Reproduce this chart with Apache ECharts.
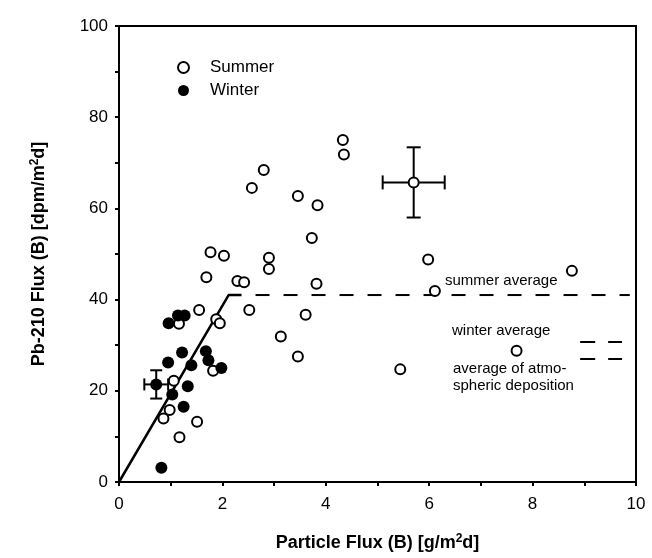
<!DOCTYPE html>
<html>
<head>
<meta charset="utf-8">
<script src="https://cdn.jsdelivr.net/npm/echarts@6/dist/echarts.min.js"></script>
<style>html,body{margin:0;padding:0;background:#fff;}#c{width:652px;height:558px;}</style>
</head>
<body>
<div id="c"></div>
<script>
// ---- data ----
const summerX = [1.77,2.03,1.69,2.29,2.42,1.55,2.52,1.16,1.88,1.95,1.06,1.82,0.98,0.86,1.51,1.17,
                 4.33,4.35,2.80,2.57,3.46,3.84,3.73,2.90,2.90,3.82,5.98,8.76,6.11,7.69,3.61,3.13,3.46,5.44,5.70];
const summerY = [50.4,49.6,44.9,44.1,43.8,37.7,37.7,34.7,35.7,34.8,22.2,24.4,15.8,13.9,13.2,9.8,
                 75.0,71.8,68.4,64.5,62.7,60.7,53.5,49.2,46.7,43.5,48.8,46.3,41.9,28.8,36.7,31.9,27.5,24.7,65.7];
const winterX = [0.96,1.14,1.27,1.22,0.95,1.40,1.68,1.73,1.98,1.33,1.03,1.25,0.82,0.72];
const winterY = [34.8,36.5,36.5,28.4,26.2,25.6,28.7,26.7,25.0,21.0,19.2,16.5,3.1,21.4];
// error bars: x, y, x half-width, y half-width
const errX  = [5.70, 0.72];
const errY  = [65.7, 21.4];
const errDX = [0.60, 0.23];
const errDY = [7.7, 3.1];
// fitted line and averages
const fitX = [0, 2.12, 2.37];
const fitY = [0, 41, 41];
const summerAvg = 41;
const summerAvgRange = [2.37, 9.88];
const winterAvg = 30.7;
const atmoAvg = 27.0;
const shortAvgRange = [8.92, 9.73];
const xTicks = [0, 2, 4, 6, 8, 10];
const yTicks = [0, 20, 40, 60, 80, 100];

const FONT = 'Liberation Sans, Arial, Helvetica, sans-serif';
const zip = (a, b) => a.map((v, i) => [v, b[i]]);

const chart = echarts.init(document.getElementById('c'), null, {renderer: 'canvas'});
chart.setOption({
  animation: false,
  backgroundColor: '#fff',
  grid: {left: 119, right: 16, top: 26, bottom: 76, show: true, borderColor: '#000', borderWidth: 2, backgroundColor: 'transparent'},
  xAxis: {
    type: 'value', min: 0, max: 10, interval: 1,
    axisLine: {show: true, onZero: false, lineStyle: {color: '#000', width: 2}},
    axisTick: {show: true, inside: false, length: 4, lineStyle: {color: '#000', width: 2}},
    splitLine: {show: false},
    axisLabel: {color: '#000', fontFamily: FONT, fontSize: 17, margin: 14,
      formatter: v => xTicks.indexOf(v) >= 0 ? String(v) : ''},
    name: 'Particle Flux (B) [g/m{sup|2}d]',
    nameLocation: 'middle', nameGap: 51,
    nameTextStyle: {color: '#000', fontFamily: FONT, fontSize: 18, fontWeight: 'bold',
      rich: {sup: {fontSize: 12, fontWeight: 'bold', fontFamily: FONT, verticalAlign: 'top', padding: [0,0,8,0]}}}
  },
  yAxis: {
    type: 'value', min: 0, max: 100, interval: 10,
    axisLine: {show: true, onZero: false, lineStyle: {color: '#000', width: 2}},
    axisTick: {show: true, inside: false, length: 4, lineStyle: {color: '#000', width: 2}},
    splitLine: {show: false},
    axisLabel: {color: '#000', fontFamily: FONT, fontSize: 17, margin: 11,
      formatter: v => yTicks.indexOf(v) >= 0 ? String(v) : ''},
    name: 'Pb-210 Flux (B) [dpm/m{sup|2}d]',
    nameLocation: 'middle', nameGap: 70, nameRotate: 90,
    nameTextStyle: {color: '#000', fontFamily: FONT, fontSize: 18, fontWeight: 'bold',
      rich: {sup: {fontSize: 12, fontWeight: 'bold', fontFamily: FONT, verticalAlign: 'top', padding: [0,0,8,0]}}}
  },
  legend: {
    show: true, orient: 'vertical', left: 172, top: 53, itemGap: 4,
    itemWidth: 11, itemHeight: 11,
    data: ['Summer', 'Winter'],
    textStyle: {color: '#000', fontFamily: FONT, fontSize: 17, padding: [0, 0, 0, 16], lineHeight: 19}
  },
  series: [
    {
      type: 'line', name: 'fit', data: zip(fitX, fitY), showSymbol: false, symbol: 'none',
      lineStyle: {color: '#000', width: 2.5}, z: 1, silent: true
    },
    {
      type: 'line', name: 'summer average', symbol: 'none',
      data: [[summerAvgRange[0], summerAvg], [summerAvgRange[1], summerAvg]],
      lineStyle: {color: '#000', width: 2, type: [14, 14], dashOffset: 14}, z: 1, silent: true
    },
    {
      type: 'line', name: 'winter average', symbol: 'none',
      data: [[shortAvgRange[0], winterAvg], [shortAvgRange[1], winterAvg]],
      lineStyle: {color: '#000', width: 2, type: [15, 13]}, z: 1, silent: true
    },
    {
      type: 'line', name: 'atmo average', symbol: 'none',
      data: [[shortAvgRange[0], atmoAvg], [shortAvgRange[1], atmoAvg]],
      lineStyle: {color: '#000', width: 2, type: [15, 13]}, z: 1, silent: true
    },
    {
      type: 'custom', name: 'errors', z: 2, silent: true,
      data: errX.map((x, i) => [x, errY[i], errDX[i], errDY[i]]),
      renderItem: function (params, api) {
        const x = api.value(0), y = api.value(1), dx = api.value(2), dy = api.value(3);
        const l = api.coord([x - dx, y]), r = api.coord([x + dx, y]);
        const t = api.coord([x, y + dy]), b = api.coord([x, y - dy]);
        const cap = params.dataIndex === 0 ? 7 : 6;
        const st = {stroke: '#000', lineWidth: 2};
        const ln = (x1, y1, x2, y2) => ({type: 'line', shape: {x1, y1, x2, y2}, style: st});
        return {type: 'group', children: [
          ln(l[0], l[1], r[0], r[1]),
          ln(t[0], t[1], b[0], b[1]),
          ln(l[0], l[1] - cap, l[0], l[1] + cap),
          ln(r[0], r[1] - cap, r[0], r[1] + cap),
          ln(t[0] - cap, t[1], t[0] + cap, t[1]),
          ln(b[0] - cap, b[1], b[0] + cap, b[1])
        ]};
      }
    },
    {
      type: 'scatter', name: 'Summer', data: zip(summerX, summerY), symbol: 'circle', symbolSize: 10,
      itemStyle: {color: '#fff', borderColor: '#000', borderWidth: 2, opacity: 1}, z: 3
    },
    {
      type: 'scatter', name: 'Winter', data: zip(winterX, winterY), symbol: 'circle', symbolSize: 12,
      itemStyle: {color: '#000', borderColor: '#000', borderWidth: 0, opacity: 1}, z: 4
    }
  ],
  graphic: [
    {type: 'text', left: 445, top: 273, style: {text: 'summer average', fill: '#000', font: '15px ' + FONT}},
    {type: 'text', left: 452, top: 323, style: {text: 'winter average', fill: '#000', font: '15px ' + FONT}},
    {type: 'text', left: 453, top: 360, style: {text: 'average of atmo-\nspheric deposition', fill: '#000', font: '15px ' + FONT, lineHeight: 17}}
  ]
});
</script>
</body>
</html>
